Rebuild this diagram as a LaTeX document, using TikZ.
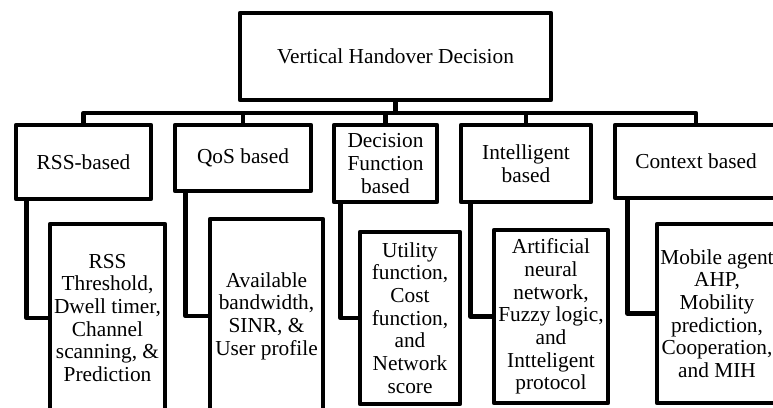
\documentclass[tikz,border=0pt]{standalone}
\usepackage{fontspec}
\setmainfont{Liberation Serif}
\usetikzlibrary{calc}
\begin{document}
\begin{tikzpicture}[x=0.75pt,y=-0.75pt,
  box/.style={draw=black,line width=3.5pt,fill=white,rectangle,inner sep=0pt,
    align=center,line join=round,font=\fontsize{16}{17}\selectfont},
  conn/.style={draw=black,line width=3.5pt,line join=round}]
\useasboundingbox (0,0) rectangle (773,407);
\fill[white] (0,0) rectangle (773,407);
\clip (0,0) rectangle (773,407);
% top
\node[box,minimum width=311*0.75pt,minimum height=87*0.75pt] (top) at (395.5,56.5) {Vertical Handover Decision};
% level 1
\node[box,minimum width=135*0.75pt,minimum height=74*0.75pt] (rss) at (83.5,162) {RSS-based};
\node[box,minimum width=136*0.75pt,minimum height=66*0.75pt] (qos) at (243,158) {QoS based};
\node[box,minimum width=103*0.75pt,minimum height=77*0.75pt] (dec) at (385.5,163.5) {Decision\\Function\\based};
\node[box,minimum width=130*0.75pt,minimum height=77*0.75pt] (int) at (526,163.5) {Intelligent\\based};
\node[box,minimum width=162*0.75pt,minimum height=73*0.75pt] (ctx) at (696,161.5) {Context based};
% bus
\coordinate (bus) at (0,113);
\draw[conn] (top.south) -- (top.south |- bus);
\draw[conn] (rss.north) |- (bus -| ctx.north) -- (ctx.north);
\draw[conn] (qos.north) -- (qos.north |- bus);
\draw[conn] (dec.north) -- (dec.north |- bus);
\draw[conn] (int.north) -- (int.north |- bus);
% level 2
\node[box,minimum width=115*0.75pt,minimum height=188*0.75pt] (rss2) at (107.5,318) {RSS\\Threshold,\\Dwell timer,\\Channel\\scanning, \&\\Prediction};
\node[box,minimum width=113*0.75pt,minimum height=194*0.75pt] (qos2) at (266.5,316) {Available\\bandwidth,\\SINR, \&\\User profile};
\node[box,minimum width=100*0.75pt,minimum height=172*0.75pt] (dec2) at (410,318) {Utility\\function,\\Cost\\function,\\and\\Network\\score};
\node[box,minimum width=114*0.75pt,minimum height=173*0.75pt] (int2) at (551,316.5) {Artificial\\neural\\network,\\Fuzzy logic,\\and\\Intteligent\\protocol};
\node[box,minimum width=120*0.75pt,minimum height=179*0.75pt] (ctx2) at (717,313.5) {Mobile agent\\AHP,\\Mobility\\prediction,\\Cooperation,\\and MIH};
% side connectors
\draw[conn] ($(rss.south west)+(13,0)$) |- (rss2.west);
\draw[conn] ($(qos.south west)+(13,0)$) |- (qos2.west);
\draw[conn] ($(dec.south west)+(9,0)$) |- (dec2.west);
\draw[conn] ($(int.south west)+(12,0)$) |- (int2.west);
\draw[conn] ($(ctx.south west)+(15,0)$) |- (ctx2.west);
\end{tikzpicture}
\end{document}
